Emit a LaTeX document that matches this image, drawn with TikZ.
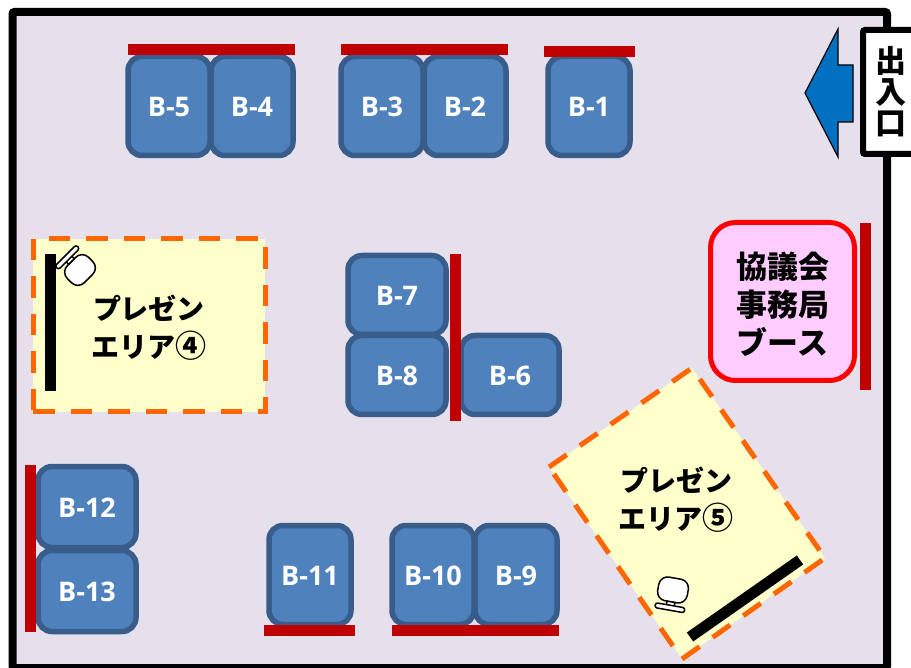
\documentclass[tikz,border=0pt]{standalone}
\usepackage{fontspec}
\usepackage{xcolor}
\setsansfont{Open Sans}
\newfontfamily\cjk{Noto Sans CJK JP}[BoldFont={Noto Sans CJK JP Black}]
\usetikzlibrary{arrows.meta, calc, positioning}
\definecolor{roomlilac}{RGB}{230, 224, 236}
\definecolor{boothblue}{RGB}{79, 129, 189}
\definecolor{boothedge}{RGB}{56, 93, 138}
\definecolor{panelred}{RGB}{192, 0, 0}
\definecolor{areayellow}{RGB}{255, 255, 204}
\definecolor{areaorange}{RGB}{255, 102, 0}
\definecolor{officepink}{RGB}{255, 204, 255}
\definecolor{exitblue}{RGB}{0, 112, 192}
\newcommand{\bigdigit}[1]{{\fontsize{31}{38}\selectfont #1}}
\tikzset{
	booth/.style={draw=boothedge, fill=boothblue, line width=5.5pt, rounded corners=14pt, outer sep=0pt, inner sep=0pt,
		minimum width=82pt, minimum height=99pt, text=white, text height=21.5pt, text depth=0pt, font=\sffamily\bfseries\fontsize{27}{27}\selectfont},
	wideb/.style={booth, minimum width=98pt, minimum height=79pt},
	panel/.style={fill=panelred, draw=none},
	areaedge/.style={draw=areaorange, line width=5pt, dash pattern=on 21.5pt off 16pt},
	bigtext/.style={align=center, inner sep=0pt, font=\cjk\bfseries\fontsize{28}{38}\selectfont},
	deskchair/.pic={
		\draw[fill=white, line width=1.5pt, rounded corners=9pt] (-15,-12) rectangle (15,12);
		\draw[fill=white, line width=1.5pt] (-4,12) rectangle (4,16);
		\draw[fill=white, line width=1.5pt, rounded corners=2.5pt] (-15,15.5) rectangle (15,20.5);
	}
}
\begin{document}
\begin{tikzpicture}[x=1pt, y=-1pt, line cap=butt]
	\clip (0,0) rectangle (911,668);
	% room
	\draw[fill=roomlilac, line width=8pt, rounded corners=2pt] (12.5,12) rectangle (887,668);

	% entrance
	\draw[fill=exitblue, line width=1.2pt, line join=miter] (805,93) -- (838,29) -- (838,65) -- (853,65) -- (853,122) -- (838,122) -- (838,157) -- cycle;
	\node[draw, fill=white, line width=6pt, rounded corners=2pt, outer sep=0pt, minimum width=56pt, minimum height=124pt,
		align=center, inner sep=0pt, font=\cjk\bfseries\fontsize{31}{31}\selectfont] (entrance) at (891,92) {出\\入\\口};

	% booths, top row
	\node[booth] (b5) at (169,106) {B-5};
	\node[booth] (b4) at (252,106) {B-4};
	\node[booth] (b3) at (382,106) {B-3};
	\node[booth] (b2) at (465,106) {B-2};
	\node[booth] (b1) at (589,106) {B-1};
	% booths, middle
	\node[wideb] (b7) at (397,295) {B-7};
	\node[wideb] (b8) at (397,375) {B-8};
	\node[wideb] (b6) at (510,375) {B-6};
	% booths, bottom
	\node[wideb, minimum height=81pt] (b12) at (87,507) {B-12};
	\node[wideb, minimum height=81pt] (b13) at (87,591) {B-13};
	\node[booth] (b11) at (310,575) {B-11};
	\node[booth] (b10) at (433,575) {B-10};
	\node[booth] (b9) at (516,575) {B-9};

	% red back panels
	\fill[panel] (128,44) rectangle (295,55);
	\fill[panel] (341,44) rectangle (508,55);
	\fill[panel] (544,46) rectangle (635,57);
	\fill[panel] (450,254) rectangle (461,421);
	\fill[panel] (860,223) rectangle (871,390);
	\fill[panel] (25,465) rectangle (36,632);
	\fill[panel] (264,625) rectangle (355,636);
	\fill[panel] (392,625) rectangle (559,636);

	% office
	\node[draw=red, fill=officepink, line width=5pt, rounded corners=25pt, outer sep=0pt, minimum width=144pt, minimum height=158pt] (office) at (782.5,301.5) {};
	\node[align=center, inner sep=0pt, font=\cjk\bfseries\fontsize{31}{38}\selectfont, yshift=-3pt] (officetext) at (office.center) {協議会\\事務局\\ブース};

	% area 4
	\fill[areayellow] (33,239) rectangle (265,412);
	\draw[areaedge] (33,239) -- (33,412);
	\draw[areaedge] (33,412) -- (265,412) -- (265,239) -- (33,239);
	\fill (45,254) rectangle (56,391);
	\pic[rotate=-135] at (80,270) {deskchair};
	\node[bigtext] (area4) at (149,327.5) {プレゼン\\エリア\bigdigit{④}};

	% area 5
	\coordinate (a5l) at (549,467);
	\coordinate (a5t) at (692,368);
	\coordinate (a5r) at (825,558);
	\coordinate (a5b) at (682,659);
	\fill[areayellow] (a5l) -- (a5t) -- (a5r) -- (a5b) -- cycle;
	\draw[areaedge] (a5l) -- (a5t) -- (a5r);
	\draw[areaedge] (a5b) -- (a5r);
	\draw[areaedge, dash phase=21.5pt] (a5b) -- (a5l);
	\draw[line width=11pt] (690,637) -- (800,560);
	\pic[rotate=-10] at (673,590) {deskchair};
	\node[bigtext] (area5) at (676,499.5) {プレゼン\\エリア\bigdigit{⑤}};
\end{tikzpicture}
\end{document}
